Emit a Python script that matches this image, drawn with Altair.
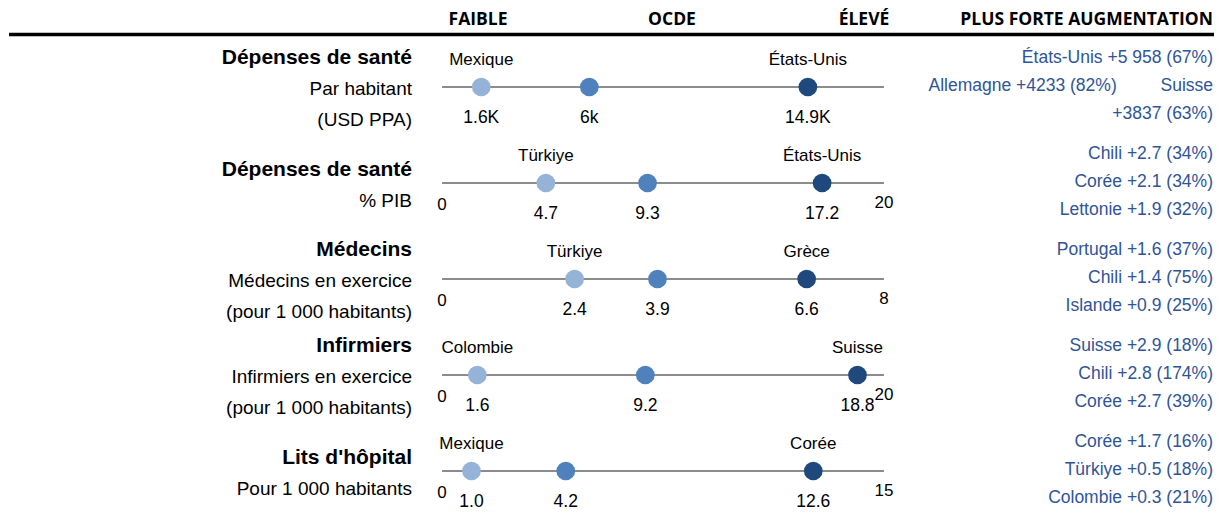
import altair as alt
import pandas as pd

# ---------------- data ----------------
indicators = ["Dépenses de santé", "Dépenses de santé", "Médecins", "Infirmiers", "Lits d'hôpital"]
subtitles = [
    ["Par habitant", "(USD PPA)"],
    ["% PIB"],
    ["Médecins en exercice", "(pour 1 000 habitants)"],
    ["Infirmiers en exercice", "(pour 1 000 habitants)"],
    ["Pour 1 000 habitants"],
]
low_country = ["Mexique", "Türkiye", "Türkiye", "Colombie", "Mexique"]
high_country = ["États-Unis", "États-Unis", "Grèce", "Suisse", "Corée"]
low_value = [1.6, 4.7, 2.4, 1.6, 1.0]
oecd_value = [6.0, 9.3, 3.9, 9.2, 4.2]
high_value = [14.9, 17.2, 6.6, 18.8, 12.6]
low_label = ["1.6K", "4.7", "2.4", "1.6", "1.0"]
oecd_label = ["6k", "9.3", "3.9", "9.2", "4.2"]
high_label = ["14.9K", "17.2", "6.6", "18.8", "12.6"]
axis_min = [0, 0, 0, 0, 0]
axis_max = [18, 20, 8, 20, 15]
axis_min_label = ["", "0", "0", "0", "0"]
axis_max_label = ["", "20", "8", "20", "15"]
NB = "\u00a0"
increases = [
    ["États-Unis +5 958 (67%)", "Allemagne +4233 (82%)" + NB * 9 + "Suisse", "+3837 (63%)"],
    ["Chili +2.7 (34%)", "Corée +2.1 (34%)", "Lettonie +1.9 (32%)"],
    ["Portugal +1.6 (37%)", "Chili +1.4 (75%)", "Islande +0.9 (25%)"],
    ["Suisse +2.9 (18%)", "Chili +2.8 (174%)", "Corée +2.7 (39%)"],
    ["Corée +1.7 (16%)", "Türkiye +0.5 (18%)", "Colombie +0.3 (21%)"],
]
headers = ["FAIBLE", "OCDE", "ÉLEVÉ", "PLUS FORTE AUGMENTATION"]
kinds = ["Faible", "OCDE", "Élevé"]

# ---------------- layout ----------------
W, H = 1206, 504
PX0, PX1 = 434, 876          # pixel of scale value 0 and of the row maximum
Y0, DY = 79, 96              # pixel of first row line, row spacing
XD = [-PX0 / (PX1 - PX0), (W - PX0) / (PX1 - PX0)]
YD = [-Y0 / DY, (H - Y0) / DY]
REG = "Liberation Sans, Arial, sans-serif"
HEAD = "Open Sans, Liberation Sans, sans-serif"
TXT_BLUE = "#2F5597"
DOT_COLORS = ["#95B3D7", "#4F81BD", "#1F497D"]

xs = alt.Scale(domain=XD, nice=False, zero=False)
ys = alt.Scale(domain=YD, nice=False, zero=False, reverse=True)


def X(f):
    return alt.X(f, type="quantitative", scale=xs, axis=None)


def Y(f):
    return alt.Y(f, type="quantitative", scale=ys, axis=None)


# ---------------- tables ----------------
rows = list(range(len(indicators)))
lines_df = pd.DataFrame({"row": rows, "x0": [0.0] * 5, "x1": [1.0] * 5})

dot_rows = []
for i in rows:
    span = axis_max[i] - axis_min[i]
    for k, v in zip(kinds, [low_value[i], oecd_value[i], high_value[i]]):
        dot_rows.append({"row": i, "kind": k, "pos": (v - axis_min[i]) / span})
dots_df = pd.DataFrame(dot_rows)

country_rows, value_rows, axis_rows = [], [], []
for i in rows:
    span = axis_max[i] - axis_min[i]
    for c, v in [(low_country[i], low_value[i]), (high_country[i], high_value[i])]:
        country_rows.append({"pos": (v - axis_min[i]) / span, "yy": i - 27 / DY, "text": c})
    for t, v in [(low_label[i], low_value[i]), (oecd_label[i], oecd_value[i]), (high_label[i], high_value[i])]:
        value_rows.append({"pos": (v - axis_min[i]) / span, "yy": i + 31 / DY, "text": t})
    axis_rows.append({"pos": 0.0, "yy": i + 22 / DY, "text": axis_min_label[i]})
    axis_rows.append({"pos": 1.0, "yy": i + 20 / DY, "text": axis_max_label[i]})
country_df = pd.DataFrame(country_rows)
value_df = pd.DataFrame(value_rows)
axis_df = pd.DataFrame(axis_rows)

left_rows = []
for i in rows:
    lines = [indicators[i]] + subtitles[i]
    n = len(lines)
    for k, t in enumerate(lines):
        left_rows.append({"yy": i + ((k - (n - 1) / 2) * 31 + 2) / DY, "text": t, "bold": k == 0})
left_df = pd.DataFrame(left_rows)

right_rows = []
for i in rows:
    for k, t in enumerate(increases[i]):
        right_rows.append({"yy": i + ((k - 1) * 28 - 1) / DY, "text": t})
right_df = pd.DataFrame(right_rows)

# ---------------- layers ----------------
layers = []

layers.append(
    alt.Chart(lines_df).mark_rule(color="#8C8C8C", strokeWidth=2).encode(
        x=X("x0"), x2="x1", y=Y("row")
    )
)
layers.append(
    alt.Chart(dots_df).mark_circle(size=350, opacity=1).encode(
        x=X("pos"), y=Y("row"),
        color=alt.Color("kind:N", scale=alt.Scale(domain=kinds, range=DOT_COLORS), legend=None),
    )
)
layers.append(
    alt.Chart(country_df).mark_text(font=REG, fontSize=17, color="#000000", baseline="middle").encode(
        x=X("pos"), y=Y("yy"), text="text:N"
    )
)
layers.append(
    alt.Chart(value_df).mark_text(font=REG, fontSize=17.5, color="#000000", baseline="middle").encode(
        x=X("pos"), y=Y("yy"), text="text:N"
    )
)
layers.append(
    alt.Chart(axis_df).mark_text(font=REG, fontSize=17, color="#000000", baseline="middle").encode(
        x=X("pos"), y=Y("yy"), text="text:N"
    )
)
layers.append(
    alt.Chart(left_df).transform_filter("datum.bold").mark_text(
        font=REG, fontSize=21, fontWeight="bold", color="#000000", align="right", baseline="middle"
    ).encode(x=alt.value(404), y=Y("yy"), text="text:N")
)
layers.append(
    alt.Chart(left_df).transform_filter("!datum.bold").mark_text(
        font=REG, fontSize=19, color="#000000", align="right", baseline="middle"
    ).encode(x=alt.value(404), y=Y("yy"), text="text:N")
)
layers.append(
    alt.Chart(right_df).mark_text(
        font=REG, fontSize=17.5, color=TXT_BLUE, align="right", baseline="middle"
    ).encode(x=alt.value(1205), y=Y("yy"), text="text:N")
)

# header row
header_x = [470, 664, 856, 1205]
header_align = ["center", "center", "center", "right"]
for h, hx, ha in zip(headers, header_x, header_align):
    layers.append(
        alt.Chart(pd.DataFrame({"text": [h]})).mark_text(
            font=HEAD, fontSize=17.5, fontWeight="bold", color="#000000", align=ha, baseline="middle"
        ).encode(x=alt.value(hx), y=alt.value(12), text="text:N")
    )
layers.append(
    alt.Chart(pd.DataFrame({"a": [0]})).mark_rule(color="#000000", strokeWidth=3.5).encode(
        x=alt.value(1), x2=alt.value(W), y=alt.value(26.5)
    )
)

chart = alt.layer(*layers).properties(
    width=W, height=H, autosize=alt.AutoSizeParams(type="none"), padding=0
).configure_view(stroke=None)

chart.save("out.html", embed_options={"renderer": "svg", "actions": False})
